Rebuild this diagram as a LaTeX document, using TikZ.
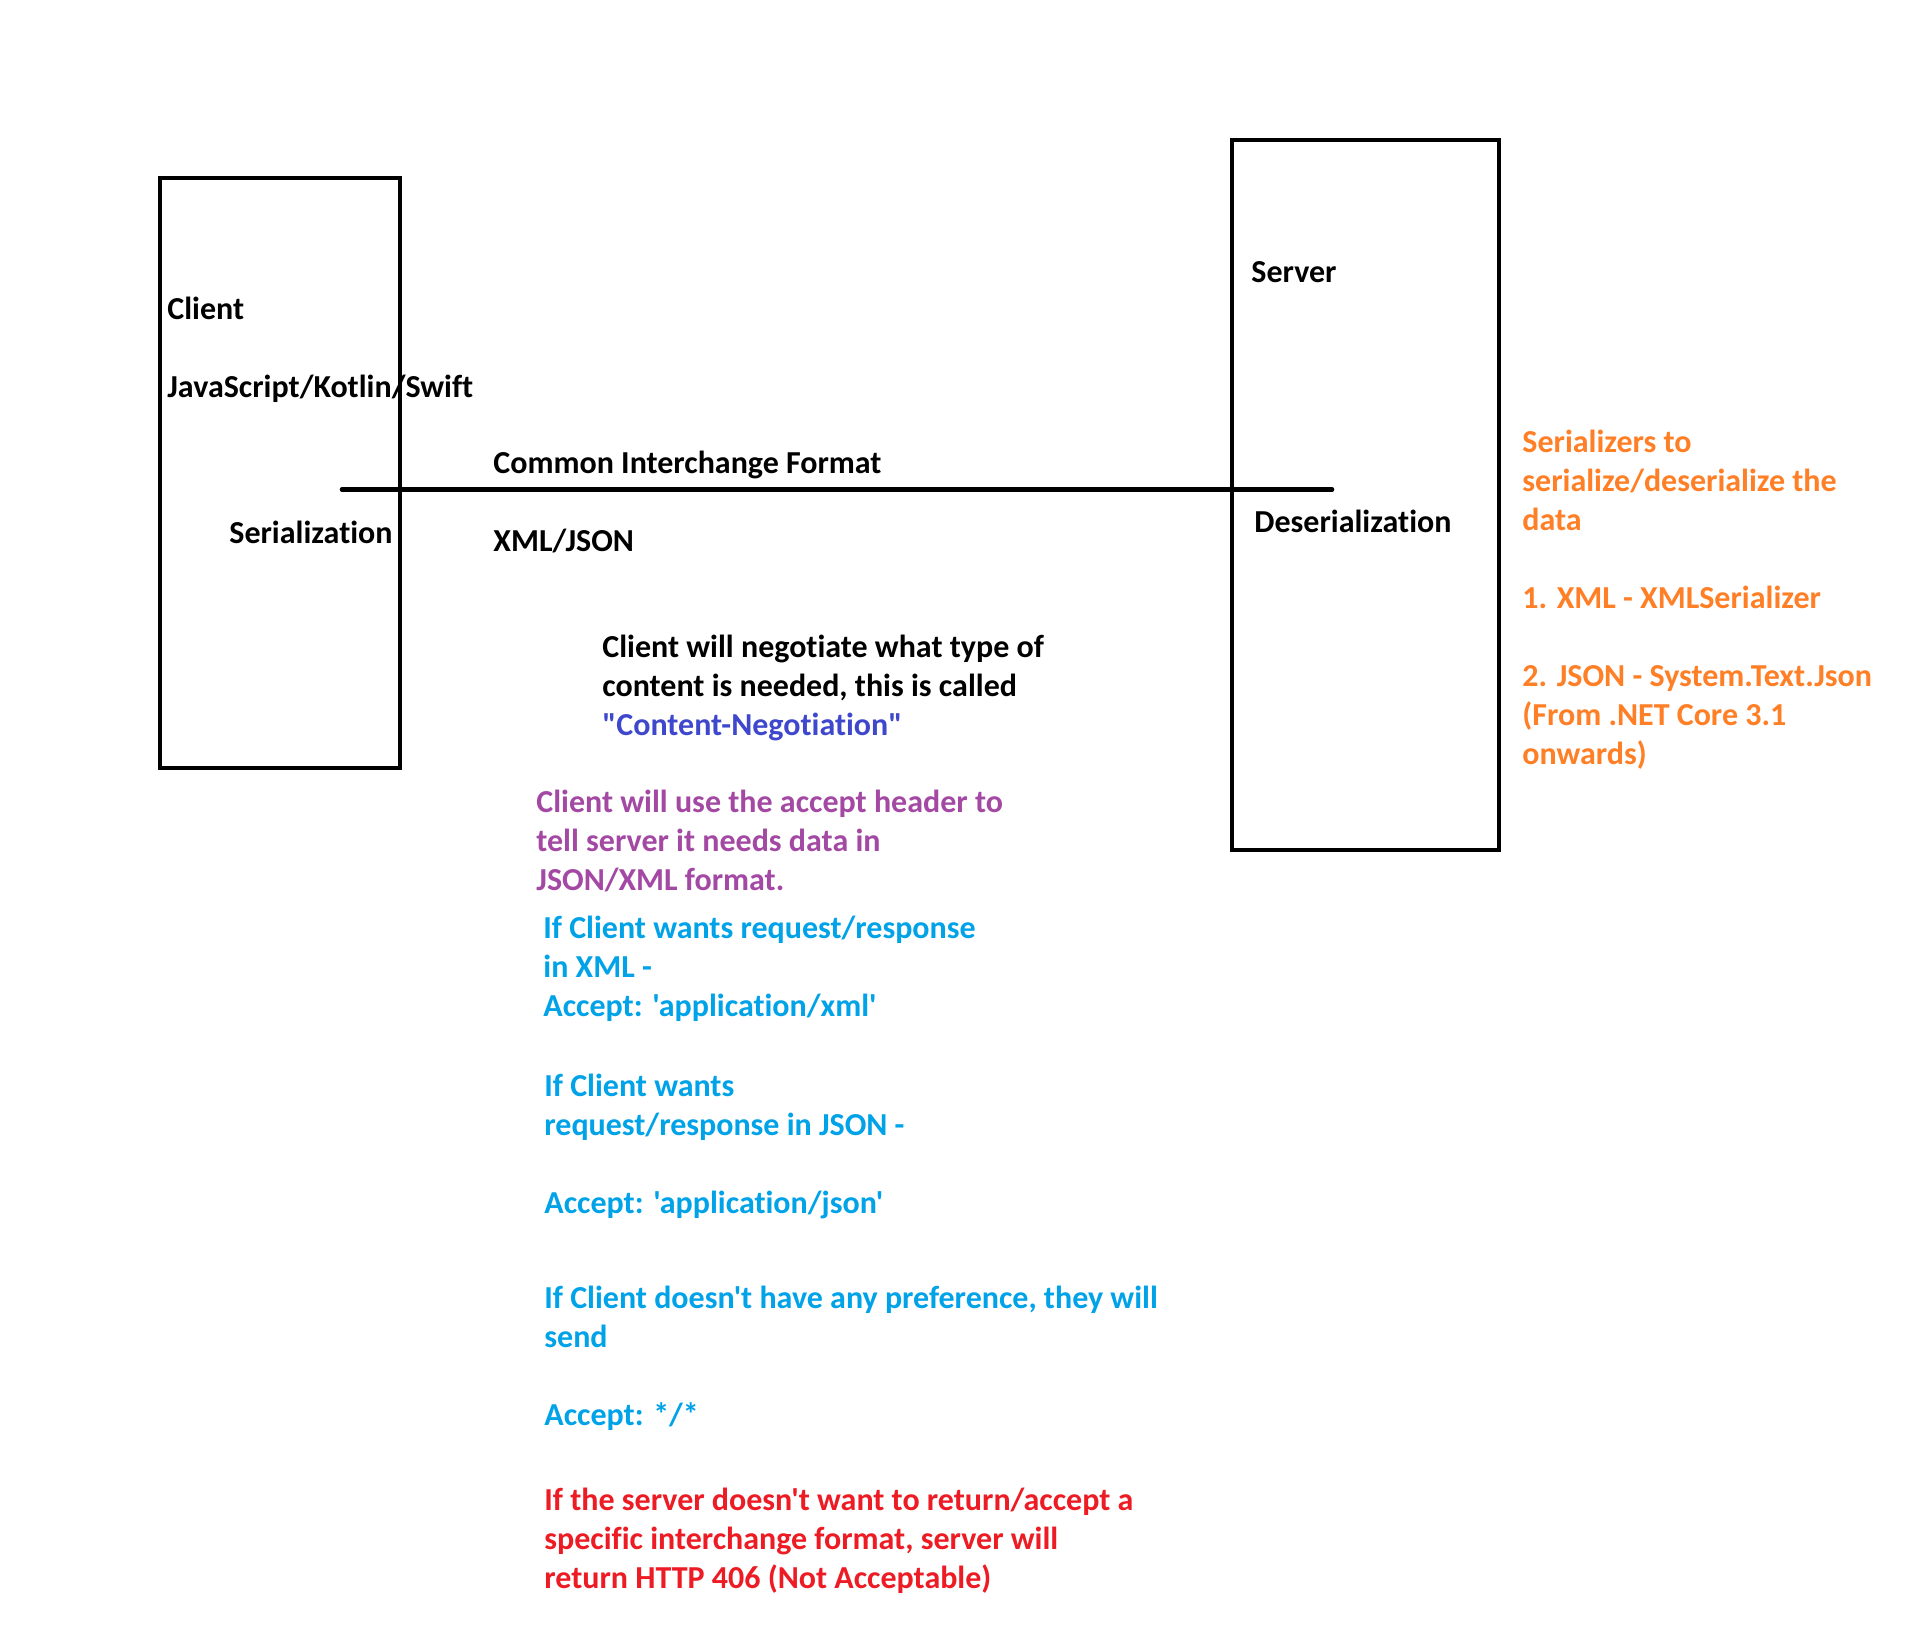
\documentclass[tikz,border=0pt]{standalone}
\usepackage{fontspec}
\setmainfont{Carlito}[Ligatures={TeXOff,NoCommon}]
\definecolor{paintorange}{HTML}{FF7F27}
\definecolor{paintpurple}{HTML}{A349A4}
\definecolor{paintcyan}{HTML}{00A2E8}
\definecolor{paintindigo}{HTML}{3F48CC}
\definecolor{paintred}{HTML}{ED1C24}
\begin{document}
\begin{tikzpicture}[x=0.5pt,y=-0.5pt,
  box/.style={draw,line width=2.3pt,inner sep=0pt,outer sep=0pt},
  wire/.style={line width=2.3pt,line cap=round},
  % multi-line labels are placed by the baseline of their last line
  lbl/.style={anchor=base west,inner sep=0pt,align=left,
    font=\bfseries\fontsize{16}{19.5}\selectfont},
]
\useasboundingbox[fill=white] (0,0) rectangle (1914,1638);

% client and server boxes
\node[box,minimum width=120pt,minimum height=295pt] (client) at (280,473) {};
\node[box,minimum width=133.5pt,minimum height=355pt] (server) at (1365.5,495) {};

% common interchange line
\coordinate (lineL) at (342,489.5);
\coordinate (lineR) at (1332,489.5);
\draw[wire] (lineL) -- (lineR);

% labels
\node[lbl] (tclient) at (167,319) {Client};
\node[lbl] (tlang) at (167,397) {JavaScript/Kotlin/Swift};
\node[lbl] (tser) at (229,543) {Serialization};
\node[lbl] (tcommon) at (493,473) {Common Interchange Format};
\node[lbl] (tfmt) at (493,551) {XML/JSON};
\node[lbl] (tserver) at (1251,282) {Server};
\node[lbl] (tdeser) at (1254,532) {Deserialization};

\node[lbl,text=paintorange] (tserializers) at (1522,764)
  {Serializers to\\serialize/deserialize the\\data\\[19.5pt]1. XML - XMLSerializer\\[19.5pt]2. JSON - System.Text.Json\\(From .NET Core 3.1\\onwards)};

\node[lbl] (tnego) at (602,735)
  {Client will negotiate what type of\\content is needed, this is called\\\textcolor{paintindigo}{"Content-Negotiation"}};

\node[lbl,text=paintpurple] (taccept) at (536,890)
  {Client will use the accept header to\\tell server it needs data in\\JSON/XML format.};

\node[lbl,text=paintcyan] (txml) at (543,1016)
  {If Client wants request/response\\in XML -\\Accept: 'application/xml'};

\node[lbl,text=paintcyan] (tjson) at (544,1213)
  {If Client wants\\request/response in JSON -\\[19.5pt]Accept: 'application/json'};

\node[lbl,text=paintcyan] (tany) at (544,1425)
  {If Client doesn't have any preference, they will\\send\\[19.5pt]Accept: */*};

\node[lbl,text=paintred] (t406) at (544,1588)
  {If the server doesn't want to return/accept a\\specific interchange format, server will\\return HTTP 406 (Not Acceptable)};
\end{tikzpicture}
\end{document}
